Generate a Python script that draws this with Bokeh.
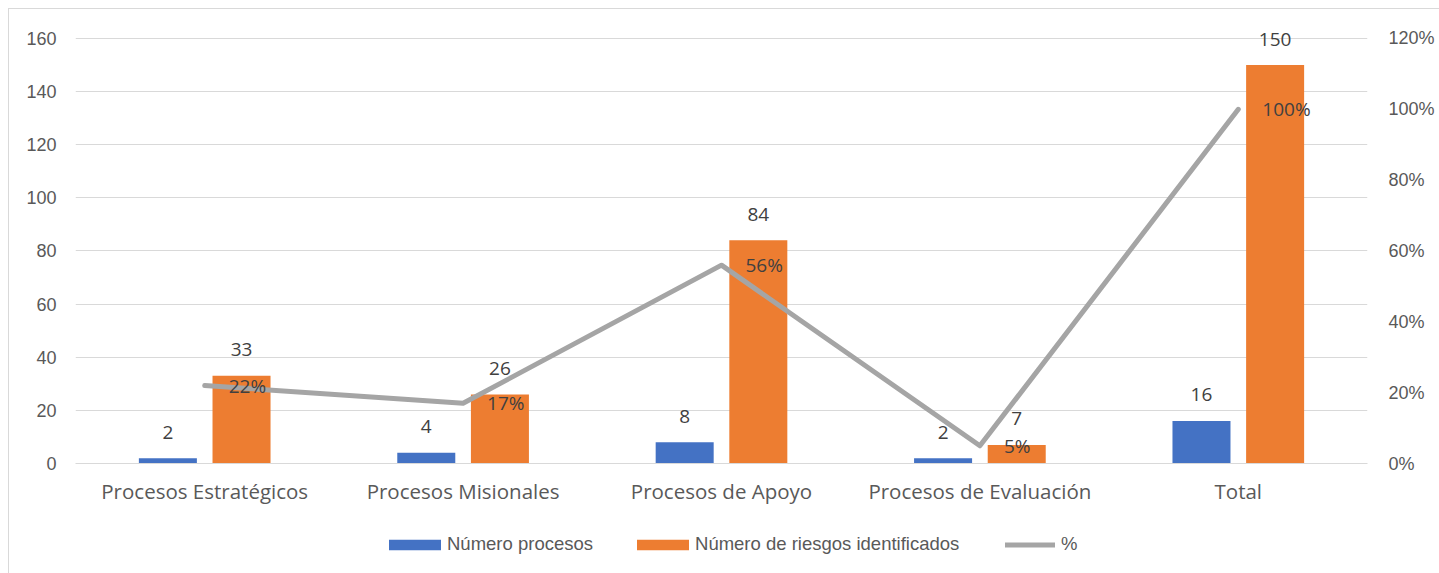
from bokeh.plotting import figure
from bokeh.layouts import column
from bokeh.models import (Range1d, FactorRange, LinearAxis, FixedTicker,
                          NumeralTickFormatter, Legend, LegendItem)
from bokeh.transform import dodge
from bokeh.core.properties import value
from bokeh.embed import file_html
from bokeh.resources import INLINE

categories = ["Procesos Estratégicos", "Procesos Misionales", "Procesos de Apoyo",
              "Procesos de Evaluación", "Total"]
num_procesos = [2, 4, 8, 2, 16]
num_riesgos = [33, 26, 84, 7, 150]
pct = [0.22, 0.17, 0.56, 0.05, 1.00]
pct_labels = ["22%", "17%", "56%", "5%", "100%"]
left_ticks = [0, 20, 40, 60, 80, 100, 120, 140, 160]
right_ticks = [0, 0.2, 0.4, 0.6, 0.8, 1.0, 1.2]
legend_labels = ["Número procesos", "Número de riesgos identificados", "%"]

BLUE = "#4472C4"
ORANGE = "#ED7D31"
GRAY = "#A5A5A5"
TXT = "#404040"
AX = "#595959"
GRID = "#D9D9D9"

Y_END = 167.9
P_END = Y_END / 160 * 1.2

p = figure(width=1430, height=515, output_backend="svg", toolbar_location=None,
           x_range=FactorRange(*categories, range_padding=0),
           y_range=Range1d(0, Y_END),
           min_border_left=66, min_border_right=72, min_border_top=8,
           min_border_bottom=61)
p.extra_y_ranges = {"pct": Range1d(0, P_END)}
p.outline_line_color = None
p.background_fill_color = "white"
p.border_fill_color = "white"

src = dict(cat=categories, a=num_procesos, b=num_riesgos, pct=pct,
           la=[str(v) for v in num_procesos], lb=[str(v) for v in num_riesgos],
           lp=pct_labels)

off = 0.1425
bw = 0.2245
p.vbar(x=dodge("cat", -off, range=p.x_range), top="a", width=bw, source=src,
       fill_color=BLUE, line_color=None)
p.vbar(x=dodge("cat", off, range=p.x_range), top="b", width=bw, source=src,
       fill_color=ORANGE, line_color=None)
p.line(x="cat", y="pct", source=src, y_range_name="pct", line_color=GRAY,
       line_width=5, line_cap="round", line_join="round")

p.text(x=dodge("cat", -off, range=p.x_range), y="a", text="la", source=src,
       y_offset=-26, text_align="center", text_baseline="middle",
       text_font=value("Open Sans"), text_font_size="19px", text_color=TXT)
p.text(x=dodge("cat", off, range=p.x_range), y="b", text="lb", source=src,
       y_offset=-26, text_align="center", text_baseline="middle",
       text_font=value("Open Sans"), text_font_size="19px", text_color=TXT)
p.text(x="cat", y="pct", text="lp", source=src, y_range_name="pct",
       x_offset=24, text_align="left", text_baseline="middle",
       text_font=value("Open Sans"), text_font_size="19px", text_color=TXT)

# axes
p.yaxis.ticker = FixedTicker(ticks=left_ticks)
p.yaxis.axis_line_color = None
p.yaxis.major_tick_line_color = None
p.yaxis.minor_tick_line_color = None
p.yaxis.major_label_standoff = 13
p.yaxis.major_label_text_font = "Liberation Sans"
p.yaxis.major_label_text_font_size = "18px"
p.yaxis.major_label_text_color = AX

ra = LinearAxis(y_range_name="pct", ticker=FixedTicker(ticks=right_ticks),
                formatter=NumeralTickFormatter(format="0%"))
ra.axis_line_color = None
ra.major_tick_line_color = None
ra.minor_tick_line_color = None
ra.major_label_standoff = 15
ra.major_label_text_font = "Liberation Sans"
ra.major_label_text_font_size = "18px"
ra.major_label_text_color = AX
p.add_layout(ra, "right")

p.xaxis.axis_line_color = GRID
p.xaxis.major_tick_line_color = None
p.xaxis.minor_tick_line_color = None
p.xaxis.major_label_standoff = 7
p.xaxis.major_label_text_font = "Open Sans"
p.xaxis.major_label_text_font_size = "20.5px"
p.xaxis.major_label_text_color = AX
p.xaxis.major_label_orientation = "horizontal"

p.xgrid.grid_line_color = None
p.ygrid.grid_line_color = GRID
p.ygrid.grid_line_width = 1

# legend strip below the chart (proxy renderers lie outside the visible range)
lf = figure(width=1430, height=49, output_backend="svg", toolbar_location=None,
            x_range=Range1d(0, 1), y_range=Range1d(0, 1),
            x_axis_type=None, y_axis_type=None, min_border=0)
lf.outline_line_color = None
lf.xgrid.grid_line_color = None
lf.ygrid.grid_line_color = None
lf.background_fill_color = "white"
lf.border_fill_color = "white"
lb_ = lf.vbar(x=[-5], top=[-5], bottom=[-6], width=0.1, fill_color=BLUE, line_color=None)
lo_ = lf.vbar(x=[-5], top=[-5], bottom=[-6], width=0.1, fill_color=ORANGE, line_color=None)
ll_ = lf.line(x=[-5, -4], y=[-5, -5], line_color=GRAY, line_width=5, line_cap="round")

common = dict(orientation="horizontal", padding=0, margin=0, border_line_color=None,
              background_fill_alpha=0, label_text_font="Liberation Sans",
              label_text_font_size="18.5px", label_text_color=AX)
legend_a = Legend(items=[LegendItem(label=legend_labels[0], renderers=[lb_]),
                         LegendItem(label=legend_labels[1], renderers=[lo_])],
                  location=(307, 18), glyph_width=65, glyph_height=13,
                  label_standoff=0, spacing=37, **common)
legend_b = Legend(items=[LegendItem(label=legend_labels[2], renderers=[ll_])],
                  location=(930, 18), glyph_width=50, glyph_height=13,
                  label_standoff=6, spacing=0, **common)
lf.add_layout(legend_a, "center")
lf.add_layout(legend_b, "center")

layout = column(p, lf, spacing=0)
layout.styles = {"margin-left": "8px", "margin-top": "8px",
                 "border-top": "1px solid #D9D9D9", "border-left": "1px solid #D9D9D9"}

open("out.html", "w").write(file_html(layout, INLINE))
